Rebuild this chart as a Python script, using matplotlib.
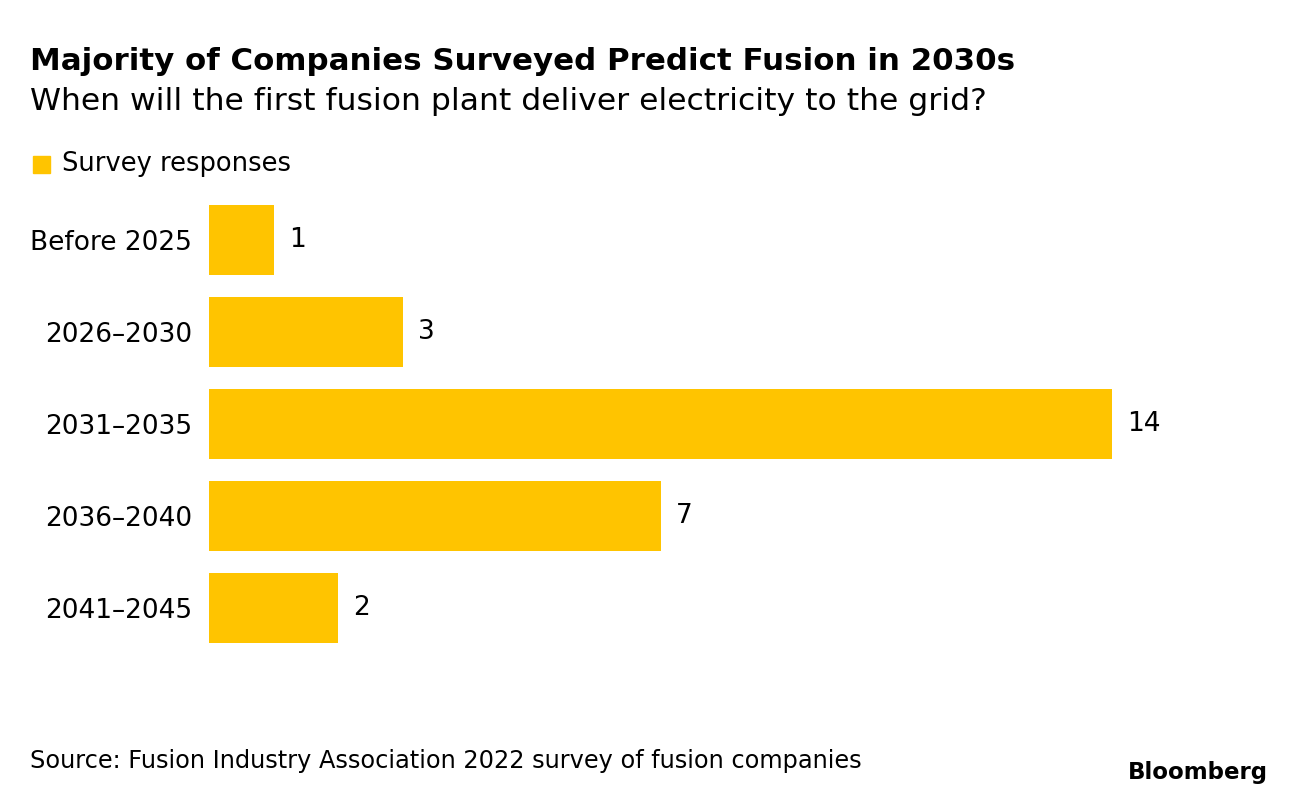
import matplotlib.pyplot as plt
from matplotlib.patches import Rectangle

categories = ["Before 2025", "2026–2030", "2031–2035", "2036–2040", "2041–2045"]
responses = [1, 3, 14, 7, 2]

BAR_COLOR = "#FFC400"
plt.rcParams['font.family'] = ['DejaVu Sans']

W, H = 1296, 800
fig = plt.figure(figsize=(W / 100, H / 100), dpi=100)
fig.patch.set_facecolor("white")

# axes placed in pixel terms: bars start at x=209, 64.5 px per unit
x_max = 15
ax = fig.add_axes([209 / W, 1 - 654 / H, x_max * 64.5 / W, 460 / H])
ypos = list(range(len(categories)))
ax.barh(ypos, responses, height=0.77, color=BAR_COLOR)
ax.set_xlim(0, x_max)
ax.set_ylim(len(categories) - 0.5, -0.5)
ax.set_yticks(ypos)
ax.set_yticklabels(categories, fontsize=19)
ax.tick_params(axis='y', length=0, pad=12)
ax.set_xticks([])
for s in ax.spines.values():
    s.set_visible(False)

for y, v in zip(ypos, responses):
    ax.annotate(str(v), (v, y), xytext=(11, 0), textcoords='offset points',
                va='center', ha='left', fontsize=19)

# titles
fig.text(30 / W, 1 - 62 / H, "Majority of Companies Surveyed Predict Fusion in 2030s",
         fontsize=22.2, fontweight='bold', va='center', ha='left')
fig.text(30 / W, 1 - 102 / H, "When will the first fusion plant deliver electricity to the grid?",
         fontsize=22.6, va='center', ha='left')

# legend
fig.patches.append(Rectangle((33 / W, 1 - 173 / H), 17 / W, 17 / H,
                             transform=fig.transFigure, color=BAR_COLOR))
fig.text(62 / W, 1 - 164 / H, "Survey responses", fontsize=18.5, va='center', ha='left')

# footer
fig.text(30 / W, 1 - 761 / H, "Source: Fusion Industry Association 2022 survey of fusion companies",
         fontsize=17.3, va='center', ha='left')
fig.text(1268 / W, 1 - 773 / H, "Bloomberg", fontsize=16.5, fontweight='bold',
         va='center', ha='right')

fig.savefig("out.png", dpi=100)
